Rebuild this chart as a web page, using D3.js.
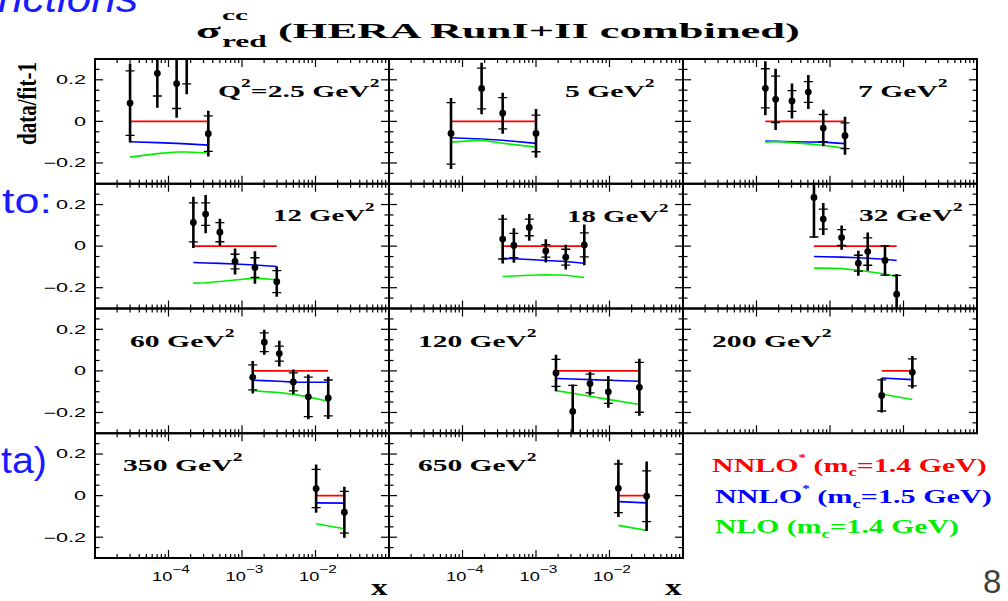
<!DOCTYPE html>
<html><head><meta charset="utf-8">
<script src="https://cdn.jsdelivr.net/npm/d3@7"></script>
<style>html,body{margin:0;padding:0;background:#fff;}svg{display:block;}</style>
</head><body>
<svg id="chart" width="1008" height="601"></svg>
<script>
// ---------------- DATA ----------------
const q2Values = [2.5, 5, 7, 12, 18, 32, 60, 120, 200, 350, 650];
const xValues = [
  [3.0e-5, 7.05e-5, 1.29e-4, 1.77e-4, 3.48e-4],
  [6.98e-5, 1.82e-4, 3.52e-4, 1.0e-3],
  [1.32e-4, 1.82e-4, 3.04e-4, 5.07e-4, 8.1e-4, 1.6e-3],
  [2.18e-4, 3.2e-4, 5.0e-4, 8.04e-4, 1.5e-3, 2.97e-3],
  [3.52e-4, 5.0e-4, 8.1e-4, 1.36e-3, 2.54e-3, 4.54e-3],
  [6.05e-4, 8.1e-4, 1.44e-3, 2.43e-3, 3.26e-3, 5.6e-3, 8.07e-3],
  [1.4e-3, 2.01e-3, 3.22e-3, 4.99e-3, 7.98e-3, 1.49e-2],
  [1.87e-3, 3.16e-3, 5.43e-3, 9.64e-3, 2.55e-2],
  [5.05e-3, 1.32e-2],
  [1.02e-2, 2.47e-2],
  [1.32e-2, 3.2e-2]
];
const ratioValues = [
  [0.088, 0.231, 0.182, 0.34, -0.059],
  [-0.058, 0.158, 0.039, -0.058],
  [0.159, 0.106, 0.098, 0.141, -0.032, -0.069],
  [0.114, 0.154, 0.067, -0.074, -0.103, -0.171],
  [0.034, 0.003, 0.09, -0.023, -0.053, 0.006],
  [0.234, 0.13, 0.041, -0.082, -0.026, -0.069, -0.231],
  [-0.031, 0.138, 0.083, -0.053, -0.125, -0.13],
  [-0.01, -0.195, -0.061, -0.101, -0.079],
  [-0.118, -0.007],
  [0.034, -0.08],
  [0.035, -0.003]
];
const totalErrors = [
  [0.19, 0.165, 0.164, 0.21, 0.11],
  [0.171, 0.124, 0.099, 0.117],
  [0.13, 0.147, 0.084, 0.082, 0.088, 0.091],
  [0.123, 0.092, 0.065, 0.062, 0.078, 0.073],
  [0.117, 0.083, 0.064, 0.056, 0.06, 0.098],
  [0.195, 0.077, 0.058, 0.06, 0.092, 0.075, 0.097],
  [0.078, 0.06, 0.062, 0.06, 0.108, 0.102],
  [0.088, 0.13, 0.056, 0.076, 0.137],
  [0.082, 0.078],
  [0.116, 0.123],
  [0.138, 0.167]
];
const statErrors = [
  [0.155, 0.109, 0.12, 0.16, 0.085],
  [0.148, 0.098, 0.075, 0.088],
  [0.094, 0.112, 0.05, 0.05, 0.065, 0.062],
  [0.094, 0.054, 0.046, 0.035, 0.047, 0.053],
  [0.096, 0.058, 0.04, 0.03, 0.038, 0.058],
  [0.19, 0.048, 0.038, 0.038, 0.066, 0.07, 0.09],
  [0.06, 0.045, 0.036, 0.043, 0.095, 0.086],
  [0.065, 0.125, 0.045, 0.055, 0.12],
  [0.075, 0.065],
  [0.092, 0.1],
  [0.117, 0.122]
];
// NNLO* (mc=1.4 GeV) is the reference fit: data/fit-1 = 0
const nnlo14Values = [
  [0, 0, 0, 0, 0], [0, 0, 0, 0], [0, 0, 0, 0, 0, 0], [0, 0, 0, 0, 0, 0],
  [0, 0, 0, 0, 0, 0], [0, 0, 0, 0, 0, 0, 0], [0, 0, 0, 0, 0, 0], [0, 0, 0, 0, 0],
  [0, 0], [0, 0], [0, 0]
];
const nnlo15Values = [
  [-0.098, -0.102, -0.106, -0.108, -0.114],
  [-0.079, -0.085, -0.091, -0.106],
  [-0.095, -0.096, -0.098, -0.099, -0.100, -0.107],
  [-0.079, -0.081, -0.083, -0.086, -0.091, -0.098],
  [-0.058, -0.061, -0.064, -0.069, -0.074, -0.082],
  [-0.050, -0.051, -0.053, -0.056, -0.058, -0.063, -0.069],
  [-0.045, -0.047, -0.050, -0.054, -0.055, -0.055],
  [-0.037, -0.039, -0.042, -0.045, -0.050],
  [-0.034, -0.042],
  [-0.035, -0.036],
  [-0.029, -0.035]
];
const nlo14Values = [
  [-0.172, -0.155, -0.147, -0.147, -0.152],
  [-0.100, -0.090, -0.105, -0.124],
  [-0.100, -0.096, -0.102, -0.108, -0.115, -0.130],
  [-0.178, -0.176, -0.170, -0.163, -0.154, -0.162],
  [-0.146, -0.144, -0.140, -0.138, -0.140, -0.151],
  [-0.106, -0.106, -0.108, -0.116, -0.122, -0.134, -0.146],
  [-0.095, -0.100, -0.104, -0.113, -0.125, -0.146],
  [-0.095, -0.108, -0.122, -0.137, -0.162],
  [-0.111, -0.138],
  [-0.135, -0.159],
  [-0.143, -0.167]
];
const yTickValues = [-0.2, 0, 0.2];
const yTickLabels = ["\u22120.2", "0", "0.2"];
const xTickValues = [1e-4, 1e-3, 1e-2];
const xTickExponents = ["\u22124", "\u22123", "\u22122"];
const legendNames = ["NNLO", "NNLO", "NLO"];
const legendStars = ["*", "*", ""];
const legendMasses = ["1.4", "1.5", "1.4"];
const seriesColors = ["#ff0000", "#0000ff", "#00ee00"];

// ---------------- LAYOUT ----------------
const colLeft = [95, 389, 683];
const panelW = 294;
const rowTop0 = 59;
const panelH = 124.75;
const SERIF = "'Liberation Serif','Times New Roman',serif";
const SANS = "'Liberation Sans',Arial,sans-serif";
// panel label: [dx from panel left, baseline dy from panel top, fitted width]
const labelPos = [
  [123, 38, 162], [176, 38, 90], [175, 38, 90],
  [178, 37.3, 102], [178, 37.8, 102], [176, 37.3, 104],
  [35, 38.2, 105], [29, 38.2, 119], [29, 38.2, 120],
  [28, 37.5, 120], [29, 37.5, 119]
];

const svg = d3.select("#chart");
svg.append("rect").attr("width", 1008).attr("height", 601).attr("fill", "#fff");

function rich(parent, segs, o) {
  const size = o.size;
  const t = parent.append("text")
    .attr("font-family", o.family).attr("font-size", size)
    .attr("font-weight", o.weight || "normal").attr("fill", o.fill || "#000")
    .attr("font-style", o.style || "normal")
    .attr("text-anchor", o.anchor || "start");
  let cur = 0;
  segs.forEach(sg => {
    const target = sg.s === "sup" ? -(o.supRaise || 0.42) * size
                 : sg.s === "sub" ? (o.subDrop || 0.28) * size : 0;
    const ts = t.append("tspan").text(sg.t).attr("dy", target - cur);
    if (sg.s === "sup") ts.attr("font-size", size * (o.supSize || 0.62));
    if (sg.s === "sub") ts.attr("font-size", size * (o.subSize || 0.62));
    cur = target;
  });
  const bw = t.node().getBBox().width;
  const sx = o.width ? o.width / bw : (o.sx || 1);
  t.attr("transform", `translate(${o.x},${o.y}) scale(${sx},1)`);
  return t;
}

// ---------------- PANELS ----------------
q2Values.forEach((q2, i) => {
  const col = i % 3, row = Math.floor(i / 3);
  const left = colLeft[col], top = rowTop0 + row * panelH;
  const x = d3.scaleLog().domain([1e-5, 1e-1]).range([left, left + panelW]);
  const y = d3.scaleLinear().domain([-0.3, 0.3]).range([top + panelH, top]);
  const g = svg.append("g");
  const clipId = "clip" + i;
  svg.append("clipPath").attr("id", clipId).append("rect")
    .attr("x", left).attr("y", top).attr("width", panelW).attr("height", panelH);

  // ticks
  const tg = g.append("g").attr("stroke", "#000").attr("stroke-width", 1.2);
  const xt = [];
  for (let d = -5; d <= -2; d++) {
    for (let m = 1; m <= 9; m++) {
      const v = m * Math.pow(10, d);
      if (v > 1e-5 * 1.0001 && v < 0.1) xt.push({ v, major: m === 1 });
    }
  }
  xt.forEach(t => {
    const len = t.major ? 8 : 4;
    const px = x(t.v);
    tg.append("line").attr("x1", px).attr("x2", px).attr("y1", top + panelH).attr("y2", top + panelH - len);
    tg.append("line").attr("x1", px).attr("x2", px).attr("y1", top).attr("y2", top + len);
  });
  d3.range(-5, 6).forEach(k => {
    const v = k * 0.05;
    const major = k % 4 === 0;
    const len = major ? 8 : 4.5;
    const py = y(v);
    tg.append("line").attr("x1", left).attr("x2", left + len).attr("y1", py).attr("y2", py);
    tg.append("line").attr("x1", left + panelW).attr("x2", left + panelW - len).attr("y1", py).attr("y2", py);
  });

  const pg = g.append("g").attr("clip-path", `url(#${clipId})`);
  // theory curves
  const line = d3.line().x(d => x(d[0])).y(d => y(d[1]));
  [nnlo14Values, nnlo15Values, nlo14Values].forEach((ser, s) => {
    pg.append("path").datum(xValues[i].map((xv, j) => [xv, ser[i][j]]))
      .attr("d", line).attr("fill", "none").attr("stroke", seriesColors[s]).attr("stroke-width", 1.6);
  });
  // data
  xValues[i].forEach((xv, j) => {
    const px = x(xv), v = ratioValues[i][j], te = totalErrors[i][j], se = statErrors[i][j];
    pg.append("line").attr("x1", px).attr("x2", px).attr("y1", y(v - te)).attr("y2", y(v + te))
      .attr("stroke", "#000").attr("stroke-width", 2.6);
    [v - se, v + se].forEach(sv => {
      pg.append("line").attr("x1", px - 4.5).attr("x2", px + 4.5).attr("y1", y(sv)).attr("y2", y(sv))
        .attr("stroke", "#000").attr("stroke-width", 1.3);
    });
    pg.append("circle").attr("cx", px).attr("cy", y(v)).attr("r", 3.4).attr("fill", "#000");
  });

  // frame
  g.append("rect").attr("x", left).attr("y", top).attr("width", panelW).attr("height", panelH)
    .attr("fill", "none").attr("stroke", "#000").attr("stroke-width", 2);

  // label
  const lp = labelPos[i];
  const segs = i === 0
    ? [{ t: "Q" }, { t: "2", s: "sup" }, { t: "=" + q2 + " GeV" }, { t: "2", s: "sup" }]
    : [{ t: q2 + " GeV" }, { t: "2", s: "sup" }];
  rich(svg, segs, { x: left + lp[0], y: top + lp[1], size: 17.5, family: SERIF, weight: "bold",
    width: lp[2], supSize: 0.66, supRaise: 0.55 });

  // y tick labels
  if (col === 0) {
    yTickValues.forEach((v, k) => {
      rich(svg, [{ t: yTickLabels[k] }], { x: 86, y: y(v) + 4.3, size: 12, family: SANS, anchor: "end", sx: 1.8 });
    });
  }
  // x tick labels under bottom row
  if (row === 3) {
    xTickValues.forEach((v, k) => {
      rich(svg, [{ t: "10" }, { t: xTickExponents[k], s: "sup" }],
        { x: x(v) + 2.5, y: 580.5, size: 12.5, family: SANS, anchor: "middle", width: 38,
          supSize: 0.85, supRaise: 0.62 });
    });
    rich(svg, [{ t: "x" }], { x: left + panelW - 18, y: 595, size: 23, family: SERIF, weight: "bold", sx: 1.45 });
  }
});

// y-axis title (rotated)
(function () {
  const t = svg.append("text").text("data/fit-1")
    .attr("font-family", SERIF).attr("font-weight", "bold").attr("font-size", 14).attr("fill", "#000");
  const len = t.node().getBBox().width;
  t.attr("transform", `translate(36,145) scale(2,1) rotate(-90) scale(${83 / len},1)`);
})();

// title
rich(svg, [{ t: "\u03c3" }], { x: 196, y: 38, size: 22, family: SERIF, weight: "bold", width: 25 });
rich(svg, [{ t: "cc" }], { x: 222, y: 20, size: 14, family: SERIF, weight: "bold", width: 26 });
rich(svg, [{ t: "red" }], { x: 222, y: 46.5, size: 16, family: SERIF, weight: "bold", width: 45 });
rich(svg, [{ t: "(HERA RunI+II combined)" }], { x: 278, y: 38, size: 20, family: SERIF, weight: "bold", width: 522 });

// legend
const legendY = [471.5, 503, 533];
const legendX = [712, 715, 715];
const legendW = [275, 277, 244];
legendNames.forEach((nm, k) => {
  const segs = [{ t: nm }];
  if (legendStars[k]) segs.push({ t: legendStars[k], s: "sup" });
  segs.push({ t: " (m" }, { t: "c", s: "sub" }, { t: "=" + legendMasses[k] + " GeV)" });
  rich(svg, segs, { x: legendX[k], y: legendY[k], size: 19.5, family: SERIF, weight: "bold",
    fill: seriesColors[k], width: legendW[k], supSize: 0.5, supRaise: 0.55, subSize: 0.62, subDrop: 0.25 });
});

// background slide text fragments
const slideBlue = "#1a1aff";
rich(svg, [{ t: "nctions" }], { x: 138, y: 12, size: 40, family: SANS, style: "italic", fill: slideBlue, anchor: "end", width: 140 });
rich(svg, [{ t: "to:" }], { x: 52, y: 213, size: 36, family: SANS, fill: slideBlue, anchor: "end", width: 50 });
rich(svg, [{ t: "ta)" }], { x: 47, y: 473, size: 37, family: SANS, fill: slideBlue, anchor: "end", width: 46 });
rich(svg, [{ t: "8" }], { x: 983, y: 593, size: 33, family: SANS, fill: "#404040" });
</script>
</body></html>
